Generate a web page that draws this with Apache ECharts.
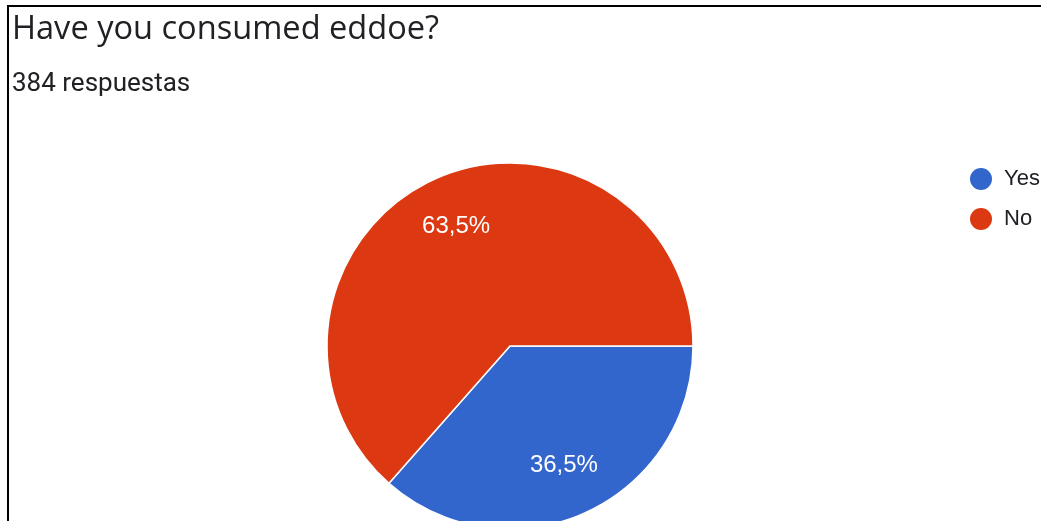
<!DOCTYPE html>
<html>
<head>
<meta charset="utf-8">
<script src="https://cdn.jsdelivr.net/npm/echarts@6/dist/echarts.min.js"></script>
<style>
html,body{margin:0;padding:0;background:#fff;overflow:hidden;}
#frame{position:absolute;left:7px;top:5px;width:1040px;height:520px;border-left:2px solid #000;border-top:2px solid #000;}
#chart{position:absolute;left:0;top:0;width:1041px;height:521px;}
</style>
</head>
<body>
<div id="frame"></div>
<div id="chart"></div>
<script>
const titleText = 'Have you consumed eddoe?';
const subtitleText = '384 respuestas';
const categories = ['Yes', 'No'];
const values = [36.5, 63.5];
const colors = ['#3366cc', '#dc3912'];

const data = categories.map((c, i) => ({ name: c, value: values[i], itemStyle: { color: colors[i] } }));
const labelData = categories.map((c, i) => ({ name: c, value: values[i] }));
const fmt = p => p.value.toFixed(1).replace('.', ',') + '%';

const chart = echarts.init(document.getElementById('chart'), null, { renderer: 'canvas' });
chart.setOption({
  animation: false,
  title: [
    {
      text: titleText,
      left: 7, top: 8,
      textStyle: { fontFamily: 'Open Sans', fontSize: 32.6, lineHeight: 33, fontWeight: 'normal', color: '#202124' }
    },
    {
      text: subtitleText,
      left: 7, top: 66,
      textStyle: { fontFamily: 'Roboto', fontSize: 26, lineHeight: 26, fontWeight: 'normal', color: '#202124' }
    }
  ],
  legend: {
    orient: 'vertical',
    left: 963, top: 161,
    icon: 'circle',
    itemWidth: 24, itemHeight: 24,
    itemGap: 14,
    data: categories,
    textStyle: { fontFamily: 'Liberation Sans', fontSize: 22, color: '#202124', padding: [0,0,0,6] }
  },
  series: [
    {
      type: 'pie',
      center: [510, 346],
      radius: [0, 183],
      startAngle: 0,
      clockwise: true,
      data: data,
      label: { show: false },
      labelLine: { show: false },
      itemStyle: { borderColor: '#fff', borderWidth: 1.5 },
      emphasis: { disabled: true }
    },
    {
      type: 'pie',
      center: [510, 346],
      radius: [73, 183],
      startAngle: 0,
      clockwise: true,
      data: labelData,
      silent: true,
      legendHoverLink: false,
      itemStyle: { color: 'rgba(0,0,0,0)', borderWidth: 0 },
      label: { show: true, position: 'inside', formatter: fmt, fontFamily: 'Liberation Sans', fontSize: 24, color: '#fff' },
      labelLine: { show: false },
      emphasis: { disabled: true }
    }
  ]
});
</script>
</body>
</html>
